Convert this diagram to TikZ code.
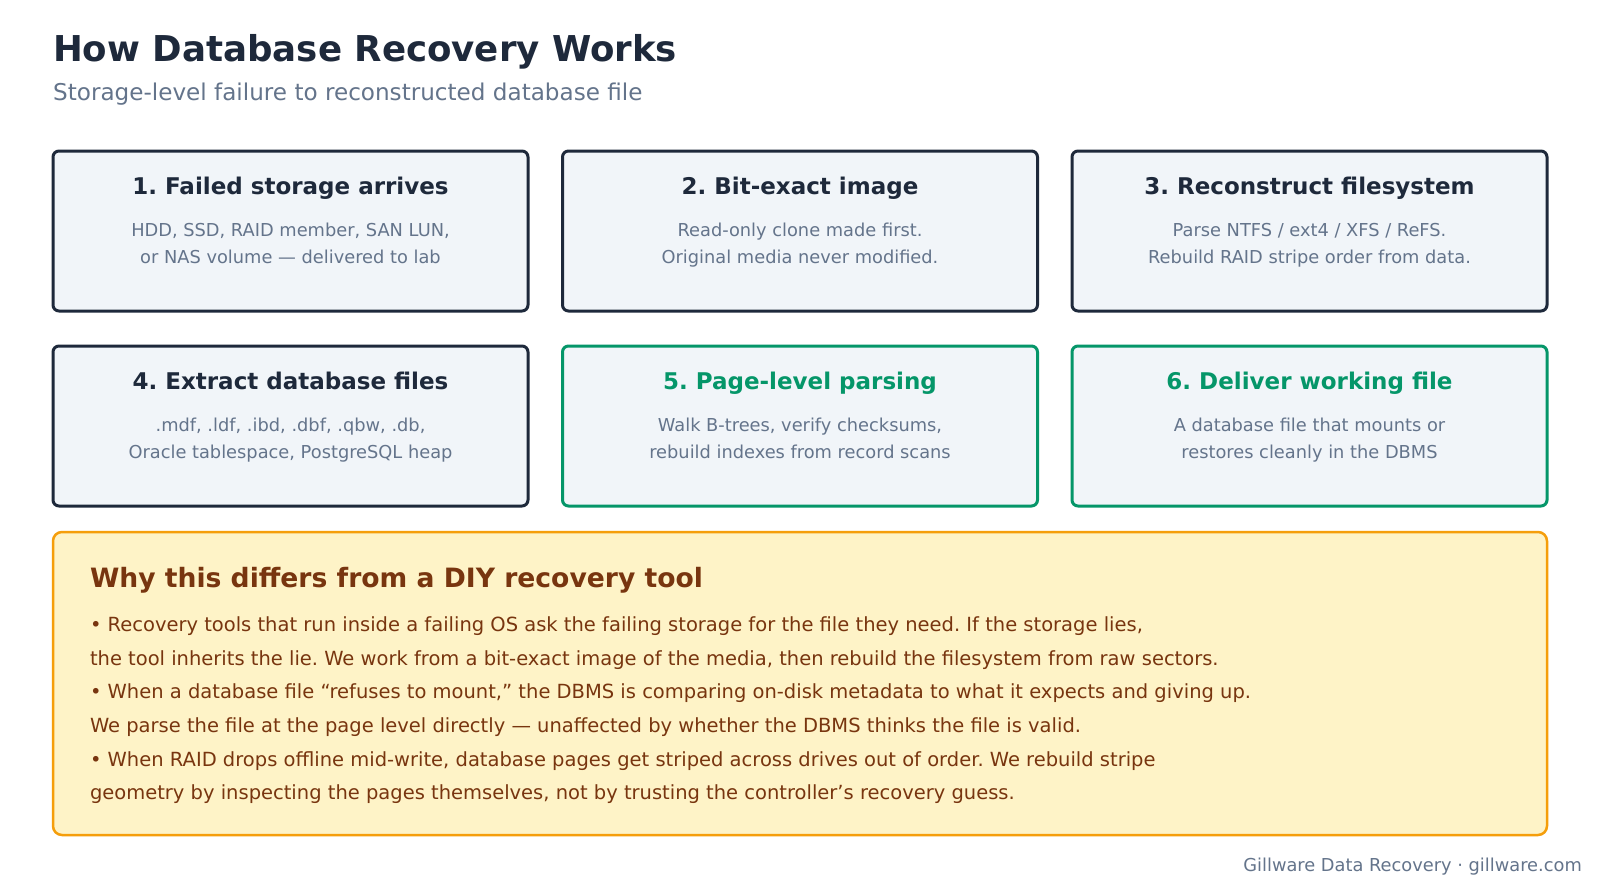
\documentclass[tikz,border=0pt]{standalone}
\usepackage{fontspec}
\setmainfont{DejaVu Sans}
\frenchspacing
\definecolor{navy}{HTML}{1E293B}
\definecolor{slate}{HTML}{64748B}
\definecolor{cardfill}{HTML}{F1F5F9}
\definecolor{green}{HTML}{059669}
\definecolor{amberfill}{HTML}{FEF3C7}
\definecolor{amberline}{HTML}{F59E0B}
\definecolor{ambertext}{HTML}{78350F}
\tikzset{
  card/.style={draw, fill=cardfill, line width=3pt, rounded corners=6pt,
    minimum width=475pt, minimum height=160pt, inner sep=0pt},
  cardtitle/.style={inner sep=0pt, font=\fontsize{23}{27}\selectfont\bfseries},
  cardbody/.style={inner sep=0pt, text=slate, font=\fontsize{17.8}{21}\selectfont},
  notebox/.style={draw=amberline, fill=amberfill, line width=2.5pt, rounded corners=9pt,
    minimum width=1494pt, minimum height=303pt, inner sep=0pt},
  notehead/.style={inner sep=0pt, anchor=base west, text=ambertext, font=\fontsize{26.6}{31}\selectfont\bfseries},
  noteline/.style={inner sep=0pt, anchor=base west, text=ambertext, font=\fontsize{19.5}{23}\selectfont},
}
\newcommand{\stepcard}[7]{%
  \node[card, draw=#4] (#1) at (#2, #3+80) {};
  \node[cardtitle, text=#4, anchor=base] (#1-t) at (#2, #3+43) {#5};
  \node[cardbody, anchor=base] (#1-a) at (#2, #3+85.5) {#6};
  \node[cardbody, anchor=base] (#1-b) at (#2, #3+112) {#7};
}
\begin{document}
\begin{tikzpicture}[x=1pt, y=-1pt]
\useasboundingbox (0,0) rectangle (1600,889);
\fill[white] (0,0) rectangle (1600,889);

\node[inner sep=0pt, anchor=base west, text=navy, font=\fontsize{35.6}{42}\selectfont\bfseries] (title) at (53,61) {How Database Recovery Works};
\node[inner sep=0pt, anchor=base west, text=slate, font=\fontsize{23.1}{27}\selectfont] (subtitle) at (53,100) {Storage-level failure to reconstructed database file};

\stepcard{s1}{290.5}{151}{navy}{1. Failed storage arrives}{HDD, SSD, RAID member, SAN LUN,}{or NAS volume — delivered to lab}
\stepcard{s2}{800}{151}{navy}{2. Bit-exact image}{Read-only clone made first.}{Original media never modified.}
\stepcard{s3}{1309.5}{151}{navy}{3. Reconstruct filesystem}{Parse NTFS / ext4 / XFS / ReFS.}{Rebuild RAID stripe order from data.}
\stepcard{s4}{290.5}{346}{navy}{4. Extract database files}{.mdf, .ldf, .ibd, .dbf, .qbw, .db,}{Oracle tablespace, PostgreSQL heap}
\stepcard{s5}{800}{346}{green}{5. Page-level parsing}{Walk B-trees, verify checksums,}{rebuild indexes from record scans}
\stepcard{s6}{1309.5}{346}{green}{6. Deliver working file}{A database file that mounts or}{restores cleanly in the DBMS}

\node[notebox] (note) at (800,683.5) {};
\node[notehead] (nh) at (89.8,587.7) {Why this differs from a DIY recovery tool};
\node[noteline] (n1) at (89.8,631.6) {• Recovery tools that run inside a failing OS ask the failing storage for the file they need. If the storage lies,};
\node[noteline] (n2) at (89.8,665.25) {the tool inherits the lie. We work from a bit-exact image of the media, then rebuild the filesystem from raw sectors.};
\node[noteline] (n3) at (89.8,698.9) {• When a database file “refuses to mount,” the DBMS is comparing on-disk metadata to what it expects and giving up.};
\node[noteline] (n4) at (89.8,732.55) {We parse the file at the page level directly — unaffected by whether the DBMS thinks the file is valid.};
\node[noteline] (n5) at (89.8,766.2) {• When RAID drops offline mid-write, database pages get striped across drives out of order. We rebuild stripe};
\node[noteline] (n6) at (89.8,799.85) {geometry by inspecting the pages themselves, not by trusting the controller’s recovery guess.};

\node[inner sep=0pt, anchor=base east, text=slate, font=\fontsize{17.8}{21}\selectfont] (footer) at (1582,871) {Gillware Data Recovery · gillware.com};
\end{tikzpicture}
\end{document}
